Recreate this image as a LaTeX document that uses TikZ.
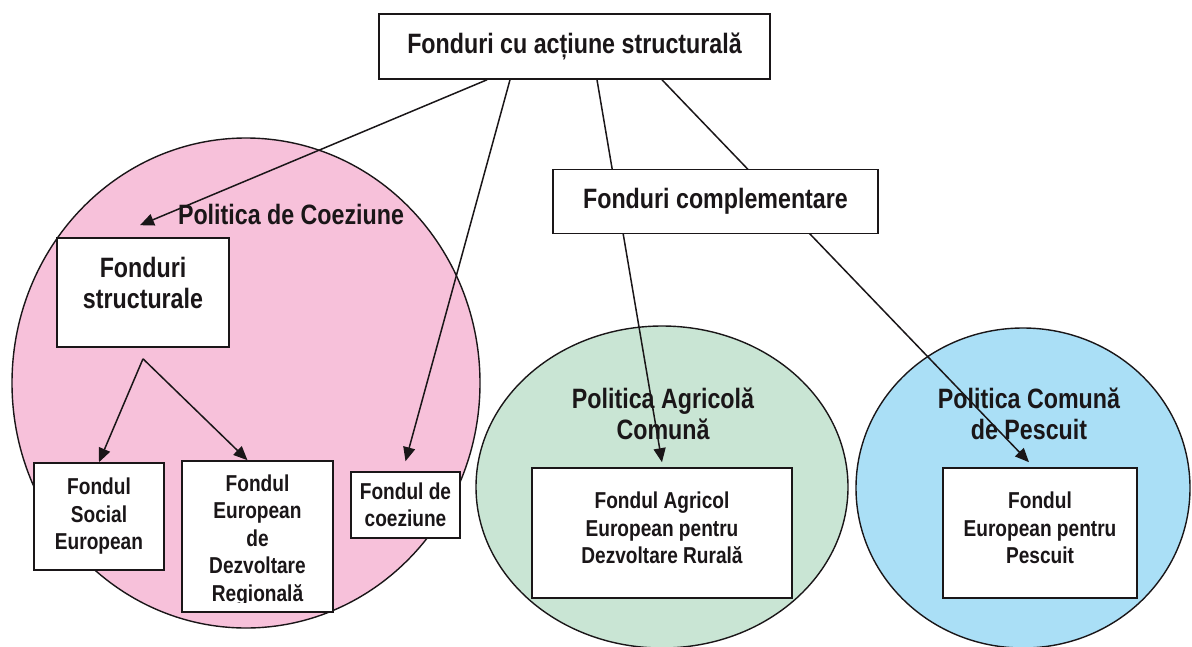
\documentclass[tikz,border=0pt]{standalone}
\usepackage{fontspec}
\setmainfont[FakeStretch=0.83]{Liberation Sans}
\usetikzlibrary{shapes.geometric,arrows.meta,calc}
\definecolor{pinkfill}{RGB}{247,193,218}
\definecolor{greenfill}{RGB}{201,229,212}
\definecolor{bluefill}{RGB}{170,223,246}
\definecolor{ink}{RGB}{26,22,24}
\begin{document}
\begin{tikzpicture}[x=1pt,y=-1pt,
  oval/.style={ellipse,draw=ink,line width=1.4pt,inner sep=0pt},
  box/.style={rectangle,draw=ink,fill=white,line width=1.6pt,inner sep=0pt},
  big/.style={font=\bfseries\fontsize{28}{31.5}\selectfont,text=ink,align=center,inner sep=0pt},
  small/.style={font=\bfseries\fontsize{23}{27.5}\selectfont,text=ink,align=center,inner sep=0pt},
  arr/.style={draw=ink,line width=1.5pt,-{Triangle[length=14pt,width=12pt]}},
  link/.style={draw=ink,line width=1.5pt}]
\useasboundingbox (0,0) rectangle (1192,646);
% policy ellipses
\node[oval,fill=pinkfill,minimum width=468pt,minimum height=490pt] (pc) at (246,383) {};
\node[oval,fill=greenfill,minimum width=372pt,minimum height=322pt] (pac) at (662,487) {};
\node[oval,fill=bluefill,minimum width=334pt,minimum height=320pt] (pcp) at (1023,488) {};
% ellipse labels
\node[big] (pcl) at (291,214) {Politica de Coeziune};
\node[big] (pacl) at (663,414) {Politica Agricolă\\Comună};
\node[big] (pcpl) at (1029,414) {Politica Comună\\de Pescuit};
% boxes
\node[box,big,minimum width=391pt,minimum height=65pt] (top) at (574.5,46.5) {Fonduri cu acțiune structurală};
\node[box,minimum width=172pt,minimum height=109pt] (fs) at (143,292.5) {};
\node[big] (fsl) at (143,283) {Fonduri\\structurale};
\node[box,small,minimum width=130pt,minimum height=107pt] (fse) at (99,516.5) {Fondul\\Social\\European};
\node[box,minimum width=151pt,minimum height=151pt] (fedr) at (257.5,536.5) {};
\begin{scope}
\clip ([yshift=10pt]fedr.south west) rectangle (fedr.north east);
\node[small] (fedrl) at (257.5,540.5) {Fondul\\European\\de\\Dezvoltare\\Regională};
\end{scope}
\node[box,small,minimum width=109pt,minimum height=66pt] (coez) at (405.5,505) {Fondul de\\coeziune};
\node[box,minimum width=260pt,minimum height=130pt] (feadr) at (662,533) {};
\node[small] (feadrl) at (662,528) {Fondul Agricol\\European pentru\\Dezvoltare Rurală};
\node[box,minimum width=194pt,minimum height=130pt] (fep) at (1040,533) {};
\node[small] (fepl) at (1040,528) {Fondul\\European pentru\\Pescuit};
% connectors
\coordinate (s1) at ([xshift=-87.5pt]top.south);
\coordinate (s2) at ([xshift=-64.5pt]top.south);
\coordinate (s3) at ([xshift=22.5pt]top.south);
\coordinate (s4) at ([xshift=87.5pt]top.south);
\coordinate (fork) at ([yshift=-11pt]fs.south);
\draw[arr] (s1) -- ([xshift=-3pt,yshift=12pt]fs.north);
\draw[arr] (s2) -- ([yshift=10pt]coez.north);
\draw[arr] (fork) -- (fse.north);
\draw[arr] (fork) -- ([xshift=-10pt]fedr.north);
\draw[arr] (s3) -- ([yshift=5pt]feadr.north);
\draw[arr] (s4) -- ([xshift=-11pt,yshift=5pt]fep.north);
% complementary funds box, drawn over the lines
\node[box,big,minimum width=325pt,minimum height=64pt] (comp) at (715.5,201.5) {Fonduri complementare};
\end{tikzpicture}
\end{document}
